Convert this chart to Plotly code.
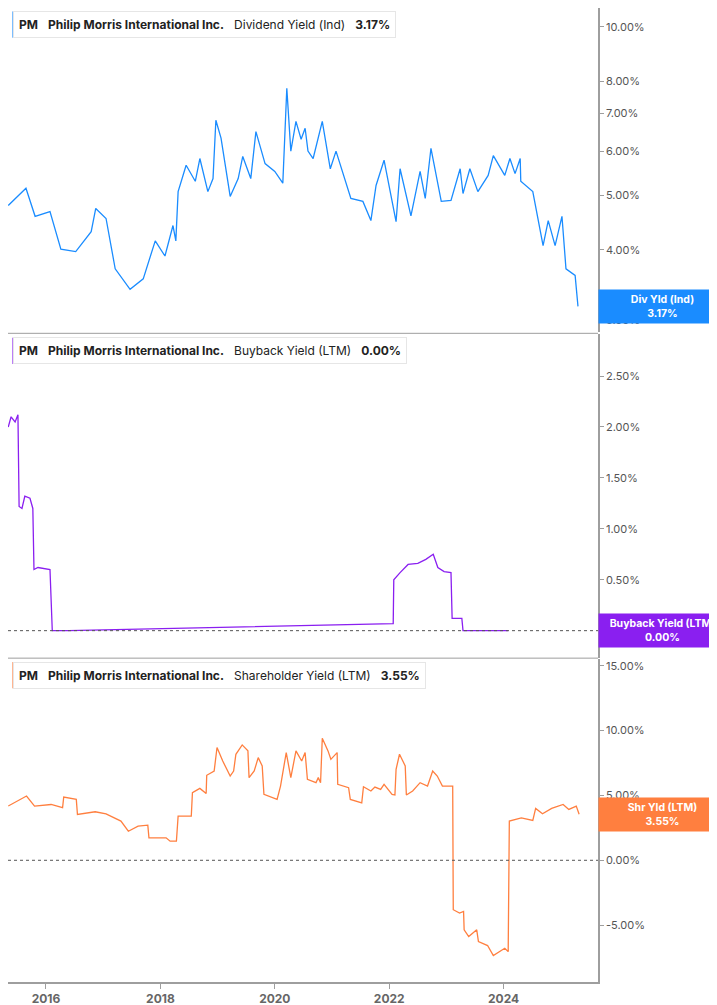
import math
import plotly.graph_objects as go

# Dividend yield (Ind), %
div_x = [2015.34, 2015.65, 2015.81, 2016.07, 2016.26, 2016.52, 2016.79, 2016.87, 2017.05, 2017.21,
         2017.47, 2017.70, 2017.91, 2018.08, 2018.22, 2018.27, 2018.31, 2018.45, 2018.61, 2018.69,
         2018.83, 2018.92, 2018.97, 2019.06, 2019.22, 2019.36, 2019.44, 2019.58, 2019.67, 2019.83,
         2020.00, 2020.14, 2020.21, 2020.28, 2020.37, 2020.46, 2020.53, 2020.58, 2020.67, 2020.83,
         2020.97, 2021.07, 2021.33, 2021.54, 2021.68, 2021.77, 2021.91, 2022.12, 2022.19, 2022.38,
         2022.54, 2022.63, 2022.73, 2022.91, 2023.08, 2023.24, 2023.29, 2023.41, 2023.55, 2023.73,
         2023.82, 2024.02, 2024.11, 2024.20, 2024.29, 2024.30, 2024.51, 2024.69, 2024.78, 2024.90,
         2025.02, 2025.09, 2025.25, 2025.30]
div_y = [4.80, 5.15, 4.59, 4.68, 4.01, 3.97, 4.31, 4.74, 4.55, 3.70,
         3.40, 3.55, 4.15, 3.90, 4.42, 4.15, 5.08, 5.66, 5.30, 5.82,
         5.08, 5.36, 6.81, 6.33, 4.98, 5.36, 5.87, 5.36, 6.50, 5.70,
         5.52, 5.26, 7.77, 6.00, 6.78, 6.30, 6.59, 6.00, 5.82, 6.78,
         5.58, 6.00, 4.94, 4.88, 4.51, 5.21, 5.78, 4.49, 5.58, 4.60,
         5.52, 4.94, 6.07, 4.88, 4.90, 5.58, 5.04, 5.58, 5.08, 5.43,
         5.89, 5.43, 5.82, 5.47, 5.82, 5.30, 5.08, 4.07, 4.51, 4.07,
         4.59, 3.70, 3.60, 3.17]

# Buyback yield (LTM), %
buy_x = [2015.34, 2015.39, 2015.46, 2015.51, 2015.53, 2015.58, 2015.63, 2015.72, 2015.77, 2015.79,
         2015.86, 2016.03, 2016.07, 2016.11, 2016.39, 2022.07, 2022.08, 2022.19, 2022.33, 2022.50,
         2022.64, 2022.77, 2022.85, 2022.96, 2023.08, 2023.10, 2023.27, 2023.29, 2024.08]
buy_y = [2.00, 2.10, 2.05, 2.12, 1.22, 1.20, 1.32, 1.30, 1.20, 0.60,
         0.62, 0.60, 0.60, 0.00, 0.00, 0.07, 0.50, 0.57, 0.65, 0.66,
         0.70, 0.75, 0.62, 0.58, 0.57, 0.12, 0.12, 0.00, 0.00]

# Shareholder yield (LTM), %
shr_x = [2015.34, 2015.66, 2015.80, 2016.09, 2016.29, 2016.31, 2016.53, 2016.55, 2016.86, 2017.05,
         2017.31, 2017.44, 2017.61, 2017.78, 2017.80, 2018.10, 2018.17, 2018.28, 2018.31, 2018.54,
         2018.56, 2018.69, 2018.80, 2018.81, 2018.94, 2018.99, 2019.09, 2019.22, 2019.28, 2019.32,
         2019.43, 2019.53, 2019.55, 2019.64, 2019.71, 2019.78, 2019.81, 2020.04, 2020.10, 2020.20,
         2020.28, 2020.37, 2020.47, 2020.53, 2020.57, 2020.72, 2020.76, 2020.80, 2020.83, 2020.93,
         2020.98, 2021.09, 2021.10, 2021.29, 2021.32, 2021.52, 2021.55, 2021.68, 2021.75, 2021.85,
         2021.91, 2022.05, 2022.10, 2022.12, 2022.18, 2022.28, 2022.30, 2022.41, 2022.54, 2022.67,
         2022.76, 2022.84, 2022.93, 2023.11, 2023.12, 2023.23, 2023.30, 2023.31, 2023.39, 2023.53,
         2023.56, 2023.72, 2023.82, 2024.02, 2024.08, 2024.10, 2024.31, 2024.51, 2024.56, 2024.68,
         2024.84, 2025.04, 2025.14, 2025.27, 2025.32]
shr_y = [4.18, 4.95, 4.18, 4.30, 4.05, 4.87, 4.69, 3.53, 3.74, 3.58,
         3.02, 2.24, 2.63, 2.71, 1.73, 1.73, 1.47, 1.47, 3.40, 3.40,
         5.21, 5.54, 5.15, 6.55, 6.88, 8.69, 7.65, 6.49, 6.88, 8.17,
         8.89, 8.43, 6.37, 6.88, 7.91, 7.27, 5.08, 4.69, 5.72, 8.30,
         6.37, 8.43, 7.65, 8.30, 6.24, 5.98, 6.37, 5.98, 9.41, 8.43,
         7.78, 8.30, 5.85, 5.59, 4.69, 4.43, 5.67, 5.34, 5.64, 5.46,
         5.85, 5.08, 5.03, 7.01, 8.17, 7.27, 5.03, 5.34, 5.98, 5.72,
         6.88, 6.49, 5.72, 5.72, -3.81, -4.07, -3.94, -5.36, -5.88, -5.36,
         -6.26, -6.57, -7.35, -6.78, -7.04, 3.02, 3.27, 3.07, 4.00, 3.58,
         4.00, 4.30, 3.92, 4.18, 3.55]

div_ticks = [3, 4, 5, 6, 7, 8, 10]
buy_ticks = [0.5, 1.0, 1.5, 2.0, 2.5]
shr_ticks = [-5, 0, 5, 10, 15]
year_ticks = [2016, 2018, 2020, 2022, 2024]

BLUE = "#1a8cff"
PURPLE = "#8a1ff0"
ORANGE = "#ff7f3f"
GRID = "#9e9e9e"
FONT = "Inter, Roboto, sans-serif"

fig = go.Figure()
fig.add_trace(go.Scatter(x=div_x, y=div_y, mode="lines", line=dict(color=BLUE, width=1.3), yaxis="y"))
fig.add_trace(go.Scatter(x=buy_x, y=buy_y, mode="lines", line=dict(color=PURPLE, width=1.3), yaxis="y2"))
fig.add_trace(go.Scatter(x=shr_x, y=shr_y, mode="lines", line=dict(color=ORANGE, width=1.3), yaxis="y3"))

ax_common = dict(side="right", showgrid=False, zeroline=False, ticks="outside", ticklen=4,
                 tickcolor=GRID, tickfont=dict(size=11, color="#555", family=FONT),
                 anchor="x", showline=True, linecolor=GRID, linewidth=1.5, automargin=False)

fig.update_layout(
    width=717, height=1005,
    margin=dict(l=0, r=127, t=0, b=31),
    paper_bgcolor="white", plot_bgcolor="white",
    showlegend=False,
    font=dict(family=FONT),
    xaxis=dict(range=[2015.336, 2025.65], tickvals=year_ticks, ticktext=[str(t) for t in year_ticks],
               anchor="y3", automargin=False,
               showgrid=False, zeroline=False, ticks="outside", ticklen=5, tickcolor=GRID,
               showline=True, linecolor=GRID, linewidth=2,
               tickfont=dict(size=12, color="#666", family=FONT, weight="bold")),
    yaxis=dict(domain=[0.667, 1], type="log", range=[math.log10(2.85), math.log10(10.8)],
               tickvals=div_ticks, ticktext=[f"{t:.2f}%" for t in div_ticks], **ax_common),
    yaxis2=dict(domain=[0.333, 0.665], range=[-0.265, 2.91],
                tickvals=buy_ticks, ticktext=[f"{t:.2f}%" for t in buy_ticks], **ax_common),
    yaxis3=dict(domain=[0, 0.332], range=[-9.38, 15.54],
                tickvals=shr_ticks, ticktext=[f"{t:.2f}%" for t in shr_ticks], **ax_common),
)

# panel separators and zero lines
for yy in [0.666, 0.3325]:
    fig.add_shape(type="line", xref="paper", yref="paper", x0=0, x1=1, y0=yy, y1=yy,
                  line=dict(color=GRID, width=1))
for yr in ["y2", "y3"]:
    fig.add_shape(type="line", xref="paper", yref=yr, x0=0, x1=1, y0=0, y1=0,
                  line=dict(color="#555", width=1, dash="dot"))

# header boxes
headers = [
    (1.0, BLUE, "Dividend Yield (Ind)", "3.17%"),
    (0.665, PURPLE, "Buyback Yield (LTM)", "0.00%"),
    (0.332, ORANGE, "Shareholder Yield (LTM)", "3.55%"),
]
for top, col, name, val in headers:
    fig.add_annotation(xref="paper", yref="paper", x=0.0085, y=top - 0.003, xanchor="left", yanchor="top",
                       text=f"<b>PM</b>   <b>Philip Morris International Inc.</b>   {name}   <b>{val}</b>",
                       showarrow=False, font=dict(size=12, color="#222", family=FONT),
                       bgcolor="white", bordercolor="#e6e6e6", borderwidth=1, borderpad=5)
    fig.add_shape(type="rect", xref="paper", yref="paper", x0=0.0075, x1=0.0125,
                  y0=top - 0.0305, y1=top - 0.0035, fillcolor=col, line=dict(width=0))

# right value labels
labels = [
    ("y", math.log10(3.17), BLUE, "Div Yld (Ind)", "3.17%"),
    ("y2", 0.0, PURPLE, "Buyback Yield (LTM)", "0.00%"),
    ("y3", 3.55, ORANGE, "Shr Yld (LTM)", "3.55%"),
]
for yr, yv, col, name, val in labels:
    fig.add_annotation(xref="paper", yref=yr, x=1, y=yv, xanchor="left", yanchor="middle",
                       text=f"<b>{name}<br>{val}</b>", showarrow=False, width=121, align="center",
                       font=dict(size=10.5, color="white", family=FONT), bgcolor=col, borderpad=3)

fig.write_html("out.html")
